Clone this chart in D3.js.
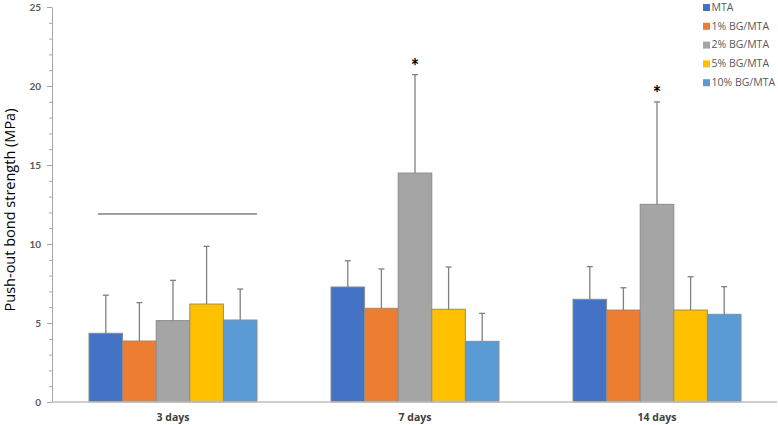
<!DOCTYPE html>
<html>
<head>
<meta charset="utf-8">
<script src="https://cdn.jsdelivr.net/npm/d3@7"></script>
<style>
  body { margin: 0; background: #fff; }
  svg { display: block; font-family: "Open Sans", Lato, sans-serif; }
</style>
</head>
<body>
<svg id="chart" width="778" height="425"></svg>
<script>
// data
const days = ["3 days", "7 days", "14 days"];
const groups = ["MTA", "1% BG/MTA", "2% BG/MTA", "5% BG/MTA", "10% BG/MTA"];
const colors = ["#4472c4", "#ed7d31", "#a5a5a5", "#ffc000", "#5b9bd5"];
const means = [
    [4.35, 3.86, 5.15, 6.2, 5.19],
    [7.28, 5.93, 14.49, 5.87, 3.84],
    [6.5, 5.82, 12.51, 5.82, 5.55]
];
const upper = [
    [6.76, 6.29, 7.7, 9.85, 7.15],
    [8.94, 8.42, 20.72, 8.54, 5.61],
    [8.57, 7.23, 18.99, 7.93, 7.3]
];
const yTicks = [0, 5, 10, 15, 20, 25];
const stars = [{ day: "7 days", group: "2% BG/MTA" }, { day: "14 days", group: "2% BG/MTA" }];
const bracketY = 11.9;

const svg = d3.select("#chart");
const mLeft = 52, mRight = 778, mTop = 7, mBottom = 402;

const x = d3.scaleBand().domain(days).range([mLeft, mRight]).paddingInner(0).paddingOuter(0);
const groupW = 168;
const xi = d3.scaleBand().domain(groups).range([0, groupW]);
const y = d3.scaleLinear().domain([0, 25]).range([mBottom, mTop]);

// y axis with minor ticks
const minor = d3.range(0, 26, 1).filter(v => v % 5 != 0);
svg.append("g")
    .attr("transform", `translate(${mLeft},0)`)
    .call(d3.axisLeft(y).tickValues(minor).tickSize(3).tickFormat(""))
    .call(g => g.select(".domain").remove())
    .selectAll("line").attr("stroke", "#a6a6a6");

const yAxis = svg.append("g")
    .attr("transform", `translate(${mLeft},0)`)
    .call(d3.axisLeft(y).tickValues(yTicks).tickSize(5).tickSizeOuter(0).tickPadding(6));
yAxis.select(".domain").attr("stroke", "#a6a6a6");
yAxis.selectAll("line").attr("stroke", "#a6a6a6");
yAxis.selectAll("text")
    .attr("fill", "#595959")
    .attr("font-family", "Lato, sans-serif")
    .attr("font-size", 10)
    .attr("font-weight", "bold");

svg.append("text")
    .attr("transform", `translate(11,210) rotate(-90)`)
    .attr("text-anchor", "middle")
    .attr("dominant-baseline", "middle")
    .attr("font-size", 14.5)
    .attr("fill", "#000")
    .text("Push-out bond strength (MPa)");

// bars
const rows = [];
days.forEach((d, i) => groups.forEach((g, j) => {
    rows.push({ day: d, group: g, mean: means[i][j], up: upper[i][j], color: colors[j] });
}));

const bx = d => x(d.day) + (x.bandwidth() - groupW) / 2 + xi(d.group);

svg.append("g").selectAll("rect")
    .data(rows)
    .enter()
    .append("rect")
    .attr("x", bx)
    .attr("y", d => y(d.mean))
    .attr("width", xi.bandwidth())
    .attr("height", d => y(0) - y(d.mean))
    .attr("fill", d => d.color)
    .attr("stroke", "#8c8c8c")
    .attr("stroke-width", 1);

// error bars
const err = svg.append("g").attr("stroke", "#808080").attr("stroke-width", 1.3);
rows.forEach(d => {
    const cx = bx(d) + xi.bandwidth() / 2;
    err.append("line").attr("x1", cx).attr("x2", cx).attr("y1", y(d.mean)).attr("y2", y(d.up));
    err.append("line").attr("x1", cx - 3).attr("x2", cx + 3).attr("y1", y(d.up)).attr("y2", y(d.up));
});

// x axis
svg.append("line")
    .attr("x1", mLeft).attr("x2", mRight - 1)
    .attr("y1", mBottom).attr("y2", mBottom)
    .attr("stroke", "#bfbfbf").attr("stroke-width", 1.5);

svg.append("g").selectAll("text")
    .data(days)
    .enter()
    .append("text")
    .attr("x", d => x(d) + x.bandwidth() / 2)
    .attr("y", 421)
    .attr("text-anchor", "middle")
    .attr("font-size", 10.5)
    .attr("font-weight", "bold")
    .attr("fill", "#404040")
    .text(d => d);

// bracket over 3 days group
svg.append("line")
    .attr("x1", x("3 days") + (x.bandwidth() - groupW) / 2 + 9)
    .attr("x2", x("3 days") + (x.bandwidth() + groupW) / 2)
    .attr("y1", y(bracketY)).attr("y2", y(bracketY))
    .attr("stroke", "#404040").attr("stroke-width", 1);

// significance stars
stars.forEach(s => {
    const r = rows.find(d => d.day == s.day && d.group == s.group);
    svg.append("text")
        .attr("x", bx(r) + xi.bandwidth() / 2)
        .attr("y", y(r.up) - 1)
        .attr("text-anchor", "middle")
        .attr("font-family", "Lato, sans-serif")
        .attr("font-size", 20)
        .attr("font-weight", "bold")
        .attr("fill", "#000")
        .text("*");
});

// legend
const legend = svg.append("g").attr("transform", "translate(703,0)");
groups.forEach((g, i) => {
    const row = legend.append("g").attr("transform", `translate(0,${7.5 + i * 18.8})`);
    row.append("rect").attr("x", 0).attr("y", -3.5).attr("width", 7).attr("height", 7).attr("fill", colors[i]);
    row.append("text")
        .attr("x", 8.5).attr("y", 0.5)
        .attr("dominant-baseline", "middle")
        .attr("font-size", 10.5)
        .attr("fill", "#595959")
        .text(g);
});
</script>
</body>
</html>
